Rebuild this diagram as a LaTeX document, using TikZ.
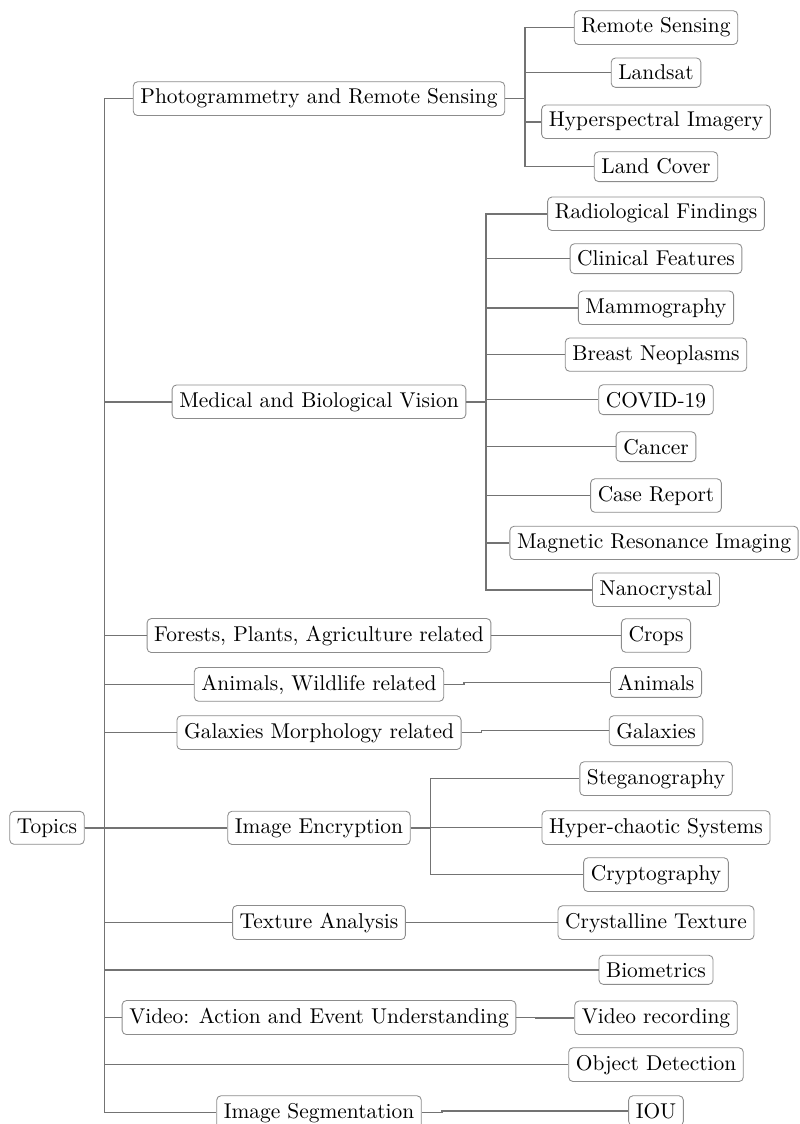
\documentclass[tikz,border=0pt]{standalone}
\usepackage{tikz}
\usetikzlibrary{positioning}

\begin{document}
\begin{tikzpicture}[
  x=0.467pt, y=-0.467pt,
  % --- Estilos ---
  topic/.style={
    rectangle,
    draw=black!45,
    rounded corners=2pt,
    fill=white,
    anchor=base
  },
  link/.style={
    draw=black!55,
    line width=0.75pt
  }
]
\useasboundingbox (0,-2) rectangle (799,1122);

% ---- RAIZ ----
\node[topic] (root) at (47,831) {Topics};

% ---- NIVEL 1 ----
\node[topic] (photo) at (319,102) {Photogrammetry and Remote Sensing};
\node[topic] (med)   at (319,405) {Medical and Biological Vision};
\node[topic] (forest) at (319,639) {Forests, Plants, Agriculture related};
\node[topic] (anim)  at (319,688) {Animals, Wildlife related};
\node[topic] (gal)   at (319,736) {Galaxies Morphology related};
\node[topic] (enc)   at (319,831) {Image Encryption};
\node[topic] (tex)   at (319,926) {Texture Analysis};
\node[topic] (video) at (319,1021) {Video: Action and Event Understanding};
\node[topic] (seg)   at (319,1116) {Image Segmentation};

% ---- NIVEL 2 ----
% Fotogrametria
\node[topic] (rs)    at (656,31) {Remote Sensing};
\node[topic] (land)  at (656,78) {Landsat};
\node[topic] (hyp)   at (656,125) {Hyperspectral Imagery};
\node[topic] (cover) at (656,172) {Land Cover};
% Medicina
\node[topic] (rad)   at (656,217) {Radiological Findings};
\node[topic] (clin)  at (656,264) {Clinical Features};
\node[topic] (mam)   at (656,311) {Mammography};
\node[topic] (breast) at (656,358) {Breast Neoplasms};
\node[topic] (covid) at (656,405) {COVID-19};
\node[topic] (canc)  at (656,452) {Cancer};
\node[topic] (case)  at (656,499) {Case Report};
\node[topic] (mri)   at (654,546) {Magnetic Resonance Imaging};
\node[topic] (nano)  at (656,593) {Nanocrystal};
% Resto
\node[topic] (crops) at (656,639) {Crops};
\node[topic] (anim2) at (656,688) {Animals};
\node[topic] (gal2)  at (656,736) {Galaxies};
\node[topic] (steg)  at (656,782) {Steganography};
\node[topic] (chaos) at (656,831) {Hyper-chaotic Systems};
\node[topic] (crypt) at (656,878) {Cryptography};
\node[topic] (cryst) at (656,926) {Crystalline Texture};
\node[topic] (bio)   at (656,975) {Biometrics};
\node[topic] (rec)   at (656,1021) {Video recording};
\node[topic] (obj)   at (656,1068) {Object Detection};
\node[topic] (iou)   at (656,1116) {IOU};

% ---- CONEXIONES ----
% Tronco principal
\foreach \n in {photo,med,forest,anim,gal,enc,tex,bio,video,obj,seg}
  \draw[link] (root.east) -- ++(20,0) |- (\n.west);

% Ramas
\foreach \n in {rs,land,hyp,cover}
  \draw[link] (photo.east) -- ++(20,0) |- (\n.west);
\foreach \n in {rad,clin,mam,breast,covid,canc,case,mri,nano}
  \draw[link] (med.east) -- ++(20,0) |- (\n.west);
\foreach \n in {steg,chaos,crypt}
  \draw[link] (enc.east) -- ++(20,0) |- (\n.west);

\draw[link] (forest.east) -- ++(20,0) |- (crops.west);
\draw[link] (anim.east) -- ++(20,0) |- (anim2.west);
\draw[link] (gal.east) -- ++(20,0) |- (gal2.west);
\draw[link] (tex.east) -- ++(20,0) |- (cryst.west);
\draw[link] (video.east) -- ++(20,0) |- (rec.west);
\draw[link] (seg.east) -- ++(20,0) |- (iou.west);

\end{tikzpicture}
\end{document}
